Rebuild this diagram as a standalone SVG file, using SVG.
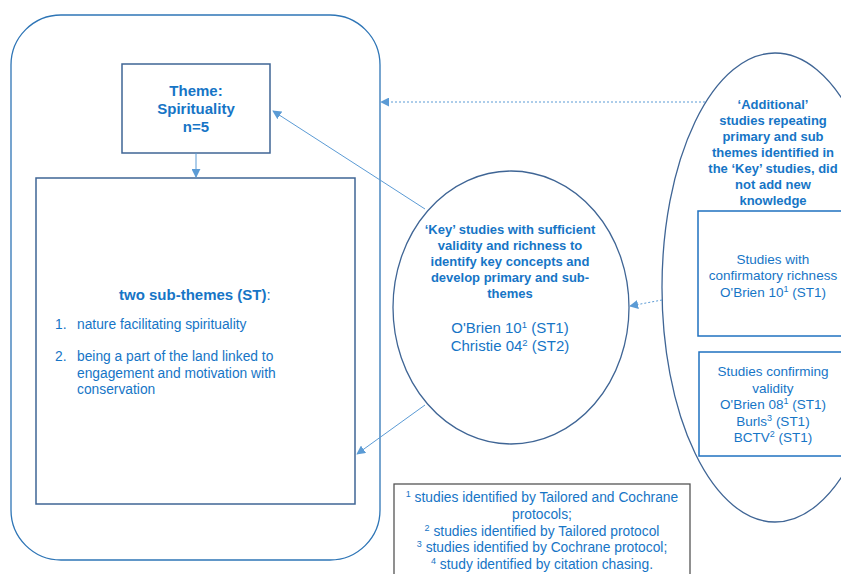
<svg xmlns="http://www.w3.org/2000/svg" width="841" height="574" viewBox="0 0 841 574">
<style>
text{font-family:"Liberation Sans",Arial,sans-serif;fill:#1675c6}
.b{font-weight:bold}
.c{text-anchor:middle}
.conn{stroke:#5b9bd5;stroke-width:1;fill:none}
.dot{stroke-dasharray:2,2}
.ell{fill:#fff;stroke:#3f6595;stroke-width:1.3}
</style>
<defs>
<marker id="ah" viewBox="0 0 10 10" refX="9" refY="5" markerWidth="9" markerHeight="9" markerUnits="userSpaceOnUse" orient="auto">
<path d="M0,0 L10,5 L0,10 z" fill="#5b9bd5"/>
</marker>
</defs>
<g id="outer">
<rect x="11" y="15" width="369" height="545" rx="50" ry="50" fill="#fff" stroke="#2e75b6" stroke-width="1.3"/>
</g>
<g id="theme">
<rect x="122" y="64" width="148" height="89" fill="#fff" stroke="#3f6595" stroke-width="1.5"/>
<text class="b c" font-size="15" x="196" y="96">Theme:</text>
<text class="b c" font-size="15" x="196" y="114">Spirituality</text>
<text class="b c" font-size="15" x="196" y="132">n=5</text>
</g>
<g id="subthemes">
<rect x="36" y="178" width="319" height="326" fill="#fff" stroke="#3f6595" stroke-width="1.5"/>
<text font-size="15" x="119" y="300"><tspan class="b">two sub-themes (ST)</tspan>:</text>
<text font-size="13.8" x="55" y="329">1.</text>
<text font-size="13.8" x="77" y="329">nature facilitating spirituality</text>
<text font-size="13.8" x="55" y="361">2.</text>
<text font-size="13.8" x="77" y="361">being a part of the land linked to</text>
<text font-size="13.8" x="77" y="377.5">engagement and motivation with</text>
<text font-size="13.8" x="77" y="394">conservation</text>
</g>
<g id="key">
<ellipse class="ell" cx="511" cy="307.5" rx="118" ry="136.5"/>
<text class="b c" font-size="13" x="510" y="234">‘Key’ studies with sufficient</text>
<text class="b c" font-size="13" x="510" y="250">validity and richness to</text>
<text class="b c" font-size="13" x="510" y="266">identify key concepts and</text>
<text class="b c" font-size="13" x="510" y="282">develop primary and sub-</text>
<text class="b c" font-size="13" x="510" y="298">themes</text>
<text class="c" font-size="15" x="510" y="333">O'Brien 10<tspan font-size="9.5" dy="-5">1</tspan><tspan dy="5"> (ST1)</tspan></text>
<text class="c" font-size="15" x="510" y="351">Christie 04<tspan font-size="9.5" dy="-5">2</tspan><tspan dy="5"> (ST2)</tspan></text>
</g>
<g id="additional">
<ellipse class="ell" cx="775" cy="287.5" rx="113" ry="234.5"/>
<text class="b c" font-size="13" x="773" y="109">‘Additional’</text>
<text class="b c" font-size="13" x="773" y="125">studies repeating</text>
<text class="b c" font-size="13" x="773" y="141">primary and sub</text>
<text class="b c" font-size="13" x="773" y="157">themes identified in</text>
<text class="b c" font-size="13" x="773" y="173">the ‘Key’ studies, did</text>
<text class="b c" font-size="13" x="773" y="189">not add new</text>
<text class="b c" font-size="13" x="773" y="205">knowledge</text>
</g>
<g id="richness">
<rect x="698" y="211" width="160" height="125" fill="#fff" stroke="#1f72c0" stroke-width="1.5"/>
<text class="c" font-size="13.5" x="773" y="264">Studies with</text>
<text class="c" font-size="13.5" x="773" y="280">confirmatory richness</text>
<text class="c" font-size="13.5" x="773" y="297">O'Brien 10<tspan font-size="9" dy="-5">1</tspan><tspan dy="5"> (ST1)</tspan></text>
</g>
<g id="validity">
<rect x="699" y="352" width="160" height="104" fill="#fff" stroke="#1f72c0" stroke-width="1.5"/>
<text class="c" font-size="13.5" x="773" y="376">Studies confirming</text>
<text class="c" font-size="13.5" x="773" y="393">validity</text>
<text class="c" font-size="13.5" x="773" y="409">O'Brien 08<tspan font-size="9" dy="-5">1</tspan><tspan dy="5"> (ST1)</tspan></text>
<text class="c" font-size="13.5" x="773" y="426">Burls<tspan font-size="9" dy="-5">3</tspan><tspan dy="5"> (ST1)</tspan></text>
<text class="c" font-size="13.5" x="773" y="442">BCTV<tspan font-size="9" dy="-5">2</tspan><tspan dy="5"> (ST1)</tspan></text>
</g>
<g id="footnotes">
<rect x="394" y="484" width="296" height="100" fill="#fff" stroke="#555" stroke-width="1.3"/>
<text class="c" font-size="13.8" x="542" y="502"><tspan font-size="9" dy="-5">1</tspan><tspan dy="5"> studies identified by Tailored and Cochrane</tspan></text>
<text class="c" font-size="13.8" x="542" y="519">protocols;</text>
<text class="c" font-size="13.8" x="542" y="536"><tspan font-size="9" dy="-5">2</tspan><tspan dy="5"> studies identified by Tailored protocol</tspan></text>
<text class="c" font-size="13.8" x="542" y="552"><tspan font-size="9" dy="-5">3</tspan><tspan dy="5"> studies identified by Cochrane protocol;</tspan></text>
<text class="c" font-size="13.8" x="542" y="569"><tspan font-size="9" dy="-5">4</tspan><tspan dy="5"> study identified by citation chasing.</tspan></text>
</g>
<g id="connectors">
<line class="conn" x1="196" y1="153" x2="196" y2="177" marker-end="url(#ah)"/>
<line class="conn dot" x1="705" y1="102" x2="381" y2="102" marker-end="url(#ah)"/>
<line class="conn" x1="425" y1="209" x2="273" y2="111" marker-end="url(#ah)"/>
<line class="conn" x1="425" y1="405" x2="357" y2="454" marker-end="url(#ah)"/>
<line class="conn dot" x1="662" y1="300" x2="630" y2="306" marker-end="url(#ah)"/>
</g>
</svg>
